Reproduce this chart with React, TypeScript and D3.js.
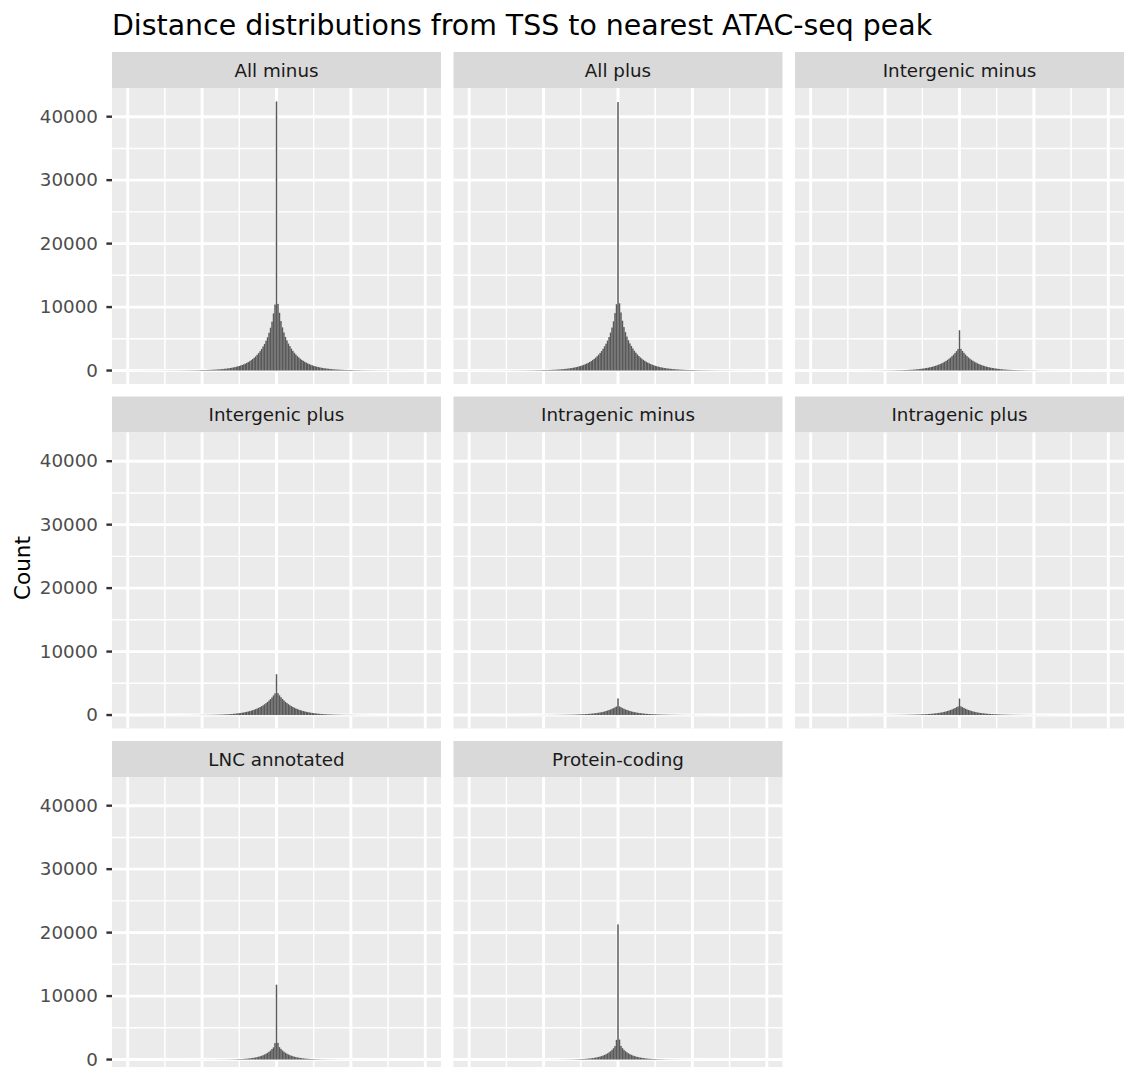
import React from 'react';
import * as d3 from 'd3';

// facet labels (facet_wrap order)
const facetNames = [
  'All minus', 'All plus', 'Intergenic minus',
  'Intergenic plus', 'Intragenic minus', 'Intragenic plus',
  'LNC annotated', 'Protein-coding',
];

// bin width 1 kb; bin centred at 0 holds the TSS-overlap spike
const binWidth = 1000;
const centerCounts = [42400, 42300, 6350, 6430, 2620, 2600, 11800, 21300];

// counts going outward from the centre bin: index 0 = ±1 kb, index 99 = ±100 kb
const allMinusLeft = [10400, 9000, 7700, 6750, 5950, 5250, 4700, 4200, 3800, 3400, 3050, 2750, 2480, 2230, 2010, 1810, 1630, 1470, 1330, 1200, 1085, 980, 885, 800, 725, 655, 592, 536, 485, 440, 398, 361, 328, 298, 271, 247, 225, 205, 187, 171, 156, 143, 131, 120, 110, 101, 93, 86, 79, 73, 67, 62, 58, 54, 50, 46, 43, 40, 37, 35, 33, 31, 29, 27, 26, 24, 23, 22, 21, 20, 19, 18, 17, 16, 16, 15, 14, 14, 13, 13, 12, 12, 11, 11, 10, 10, 10, 9, 9, 9, 8, 8, 8, 7, 7, 7, 7, 6, 6, 6];
const allMinusRight = [10500, 9100, 7800, 6800, 6000, 5300, 4750, 4250, 3850, 3450, 3100, 2800, 2530, 2280, 2060, 1860, 1680, 1520, 1370, 1240, 1120, 1010, 910, 825, 745, 675, 610, 552, 500, 452, 410, 372, 338, 307, 279, 254, 231, 210, 192, 175, 160, 146, 134, 123, 113, 104, 96, 88, 81, 75, 69, 64, 59, 55, 51, 47, 44, 41, 38, 36, 34, 32, 30, 28, 26, 25, 24, 22, 21, 20, 19, 18, 17, 17, 16, 15, 15, 14, 13, 13, 12, 12, 11, 11, 11, 10, 10, 9, 9, 9, 8, 8, 8, 8, 7, 7, 7, 7, 6, 6];

const allPlusLeft = [10450, 9050, 7750, 6780, 5980, 5280, 4720, 4230, 3820, 3420, 3070, 2770, 2500, 2250, 2030, 1830, 1650, 1490, 1345, 1215, 1100, 993, 897, 810, 733, 662, 598, 541, 490, 444, 402, 364, 330, 300, 273, 248, 226, 206, 188, 172, 157, 144, 132, 121, 111, 102, 94, 86, 79, 73, 67, 62, 58, 54, 50, 46, 43, 40, 37, 35, 33, 31, 29, 27, 26, 24, 23, 22, 21, 20, 19, 18, 17, 16, 16, 15, 14, 14, 13, 13, 12, 12, 11, 11, 10, 10, 10, 9, 9, 9, 8, 8, 8, 7, 7, 7, 7, 6, 6, 6];
const allPlusRight = [10600, 9150, 7850, 6850, 6050, 5350, 4780, 4280, 3870, 3470, 3120, 2810, 2540, 2290, 2070, 1870, 1690, 1530, 1380, 1250, 1130, 1020, 920, 830, 750, 680, 615, 556, 503, 455, 412, 374, 340, 309, 281, 256, 233, 212, 193, 176, 161, 147, 135, 124, 114, 105, 97, 89, 82, 76, 70, 65, 60, 56, 52, 48, 45, 42, 39, 37, 35, 33, 31, 29, 27, 25, 24, 23, 22, 21, 20, 19, 18, 17, 16, 16, 15, 14, 14, 13, 13, 12, 12, 11, 11, 10, 10, 10, 9, 9, 9, 8, 8, 8, 7, 7, 7, 7, 6, 6];

const interMinusLeft = [3380, 3050, 2760, 2500, 2260, 2050, 1860, 1685, 1525, 1380, 1250, 1130, 1022, 924, 836, 756, 683, 616, 555, 500, 450, 405, 364, 327, 294, 264, 237, 212, 190, 170, 152, 136, 122, 110, 99, 89, 80, 72, 65, 59, 53, 48, 43, 39, 36, 33, 30, 27, 25, 23, 21, 19, 17, 16, 15, 14, 13, 12, 11, 10, 9, 9, 8, 8, 7, 7, 6, 6, 6, 5, 5, 5, 5, 4, 4, 4, 4, 4, 3, 3, 3, 3, 3, 3, 3, 3, 2, 2, 2, 2, 2, 2, 2, 2, 2, 2, 2, 2, 2, 2];
const interMinusRight = [3410, 3080, 2790, 2520, 2280, 2070, 1880, 1700, 1540, 1395, 1265, 1145, 1035, 935, 845, 765, 690, 622, 560, 505, 455, 410, 368, 330, 296, 266, 239, 214, 192, 172, 154, 138, 124, 111, 100, 90, 81, 73, 66, 60, 54, 49, 44, 40, 36, 33, 30, 27, 25, 23, 21, 19, 17, 16, 15, 14, 13, 12, 11, 10, 9, 9, 8, 8, 7, 7, 6, 6, 6, 5, 5, 5, 5, 4, 4, 4, 4, 4, 3, 3, 3, 3, 3, 3, 3, 3, 2, 2, 2, 2, 2, 2, 2, 2, 2, 2, 2, 2, 2, 2];

const interPlusLeft = [3420, 3090, 2790, 2525, 2285, 2070, 1875, 1698, 1538, 1392, 1260, 1140, 1030, 932, 842, 761, 688, 620, 559, 503, 453, 408, 367, 329, 295, 265, 238, 213, 191, 171, 153, 137, 123, 111, 100, 90, 81, 73, 66, 59, 53, 48, 44, 40, 36, 33, 30, 27, 25, 23, 21, 19, 17, 16, 15, 14, 13, 12, 11, 10, 9, 9, 8, 8, 7, 7, 6, 6, 6, 5, 5, 5, 5, 4, 4, 4, 4, 4, 3, 3, 3, 3, 3, 3, 3, 3, 2, 2, 2, 2, 2, 2, 2, 2, 2, 2, 2, 2, 2, 2];
const interPlusRight = [3450, 3110, 2810, 2540, 2300, 2085, 1890, 1710, 1550, 1405, 1272, 1152, 1042, 942, 851, 770, 695, 627, 565, 509, 459, 413, 371, 333, 299, 268, 241, 216, 194, 174, 156, 140, 125, 112, 101, 91, 82, 74, 67, 60, 54, 49, 44, 40, 36, 33, 30, 27, 25, 23, 21, 19, 17, 16, 15, 14, 13, 12, 11, 10, 9, 9, 8, 8, 7, 7, 6, 6, 6, 5, 5, 5, 5, 4, 4, 4, 4, 4, 3, 3, 3, 3, 3, 3, 3, 3, 2, 2, 2, 2, 2, 2, 2, 2, 2, 2, 2, 2, 2, 2];

const intraMinusLeft = [1350, 1220, 1090, 980, 882, 793, 713, 634, 565, 505, 451, 404, 363, 327, 295, 267, 241, 218, 197, 178, 161, 146, 132, 120, 109, 99, 90, 82, 75, 68, 62, 57, 52, 48, 44, 40, 37, 34, 31, 28, 26, 24, 22, 20, 19, 17, 16, 15, 14, 13, 12, 11, 10, 9, 9, 8, 8, 7, 7, 6, 6, 5, 5, 5, 4, 4, 4, 4, 3, 3, 3, 3, 3, 3, 2, 2, 2, 2, 2, 2, 2, 2, 2, 2, 2, 1, 1, 1, 1, 1, 1, 1, 1, 1, 1, 1, 1, 1, 1, 1];
const intraMinusRight = [1360, 1230, 1100, 990, 890, 800, 720, 640, 570, 510, 455, 408, 366, 330, 298, 270, 244, 220, 199, 180, 163, 148, 134, 122, 111, 101, 92, 84, 77, 70, 64, 59, 54, 49, 45, 41, 38, 35, 32, 29, 27, 25, 23, 21, 19, 18, 16, 15, 14, 13, 12, 11, 10, 9, 9, 8, 8, 7, 7, 6, 6, 5, 5, 5, 4, 4, 4, 4, 3, 3, 3, 3, 3, 3, 2, 2, 2, 2, 2, 2, 2, 2, 2, 2, 2, 1, 1, 1, 1, 1, 1, 1, 1, 1, 1, 1, 1, 1, 1, 1];

const intraPlusLeft = [1355, 1225, 1095, 985, 886, 797, 716, 637, 568, 508, 453, 406, 365, 329, 297, 268, 242, 219, 198, 179, 162, 147, 133, 121, 110, 100, 91, 83, 76, 69, 63, 58, 53, 48, 44, 40, 37, 34, 31, 28, 26, 24, 22, 20, 19, 17, 16, 15, 14, 13, 12, 11, 10, 9, 9, 8, 8, 7, 7, 6, 6, 5, 5, 5, 4, 4, 4, 4, 3, 3, 3, 3, 3, 3, 2, 2, 2, 2, 2, 2, 2, 2, 2, 2, 2, 1, 1, 1, 1, 1, 1, 1, 1, 1, 1, 1, 1, 1, 1, 1];
const intraPlusRight = [1370, 1240, 1110, 995, 895, 805, 722, 645, 575, 514, 458, 410, 368, 332, 300, 271, 245, 221, 200, 181, 164, 149, 135, 123, 112, 102, 93, 85, 77, 70, 64, 59, 54, 49, 45, 41, 38, 35, 32, 29, 27, 25, 23, 21, 19, 18, 16, 15, 14, 13, 12, 11, 10, 9, 9, 8, 8, 7, 7, 6, 6, 5, 5, 5, 4, 4, 4, 4, 3, 3, 3, 3, 3, 3, 2, 2, 2, 2, 2, 2, 2, 2, 2, 2, 2, 1, 1, 1, 1, 1, 1, 1, 1, 1, 1, 1, 1, 1, 1, 1];

const lncLeft = [2600, 1920, 1660, 1415, 1225, 1058, 915, 791, 683, 591, 512, 443, 384, 332, 288, 249, 216, 187, 162, 140, 122, 106, 92, 80, 70, 61, 53, 47, 41, 36, 32, 29, 26, 24, 22, 20, 18, 16, 15, 14, 13, 12, 11, 10, 9, 9, 8, 8, 7, 7, 6, 6, 6, 5, 5, 5, 4, 4, 4, 4, 3, 3, 3, 3, 3, 3, 2, 2, 2, 2, 2, 2, 2, 2, 2, 2, 2, 1, 1, 1, 1, 1, 1, 1, 1, 1, 1, 1, 1, 1, 1, 1, 1, 1, 1, 1, 1, 1, 1, 1];
const lncRight = [2630, 1950, 1680, 1430, 1240, 1070, 925, 800, 690, 598, 518, 448, 388, 336, 291, 252, 218, 189, 164, 142, 123, 107, 93, 81, 71, 62, 54, 47, 42, 37, 33, 30, 27, 24, 22, 20, 18, 16, 15, 14, 13, 12, 11, 10, 9, 9, 8, 8, 7, 7, 6, 6, 6, 5, 5, 5, 4, 4, 4, 4, 3, 3, 3, 3, 3, 3, 2, 2, 2, 2, 2, 2, 2, 2, 2, 2, 2, 1, 1, 1, 1, 1, 1, 1, 1, 1, 1, 1, 1, 1, 1, 1, 1, 1, 1, 1, 1, 1, 1, 1];

const codingLeft = [3100, 2120, 1780, 1515, 1308, 1130, 976, 843, 729, 631, 546, 473, 410, 355, 307, 266, 231, 200, 173, 150, 130, 113, 98, 86, 75, 65, 57, 50, 44, 39, 35, 31, 28, 25, 22, 20, 18, 16, 14, 13, 12, 11, 10, 9, 8, 8, 7, 7, 6, 6, 5, 5, 5, 4, 4, 4, 4, 3, 3, 3, 3, 3, 3, 3, 2, 2, 2, 2, 2, 2, 2, 2, 2, 2, 2, 1, 1, 1, 1, 1, 1, 1, 1, 1, 1, 1, 1, 1, 1, 1, 1, 1, 1, 1, 1, 1, 1, 1, 1, 1];
const codingRight = [3150, 2150, 1800, 1530, 1320, 1140, 985, 850, 735, 636, 551, 477, 413, 358, 310, 269, 233, 202, 175, 152, 132, 115, 100, 87, 76, 66, 58, 51, 45, 40, 35, 31, 28, 25, 22, 20, 18, 16, 14, 13, 12, 11, 10, 9, 8, 8, 7, 7, 6, 6, 5, 5, 5, 4, 4, 4, 4, 3, 3, 3, 3, 3, 3, 3, 2, 2, 2, 2, 2, 2, 2, 2, 2, 2, 2, 1, 1, 1, 1, 1, 1, 1, 1, 1, 1, 1, 1, 1, 1, 1, 1, 1, 1, 1, 1, 1, 1, 1, 1, 1];

const leftCounts = [allMinusLeft, allPlusLeft, interMinusLeft, interPlusLeft, intraMinusLeft, intraPlusLeft, lncLeft, codingLeft];
const rightCounts = [allMinusRight, allPlusRight, interMinusRight, interPlusRight, intraMinusRight, intraPlusRight, lncRight, codingRight];

const yBreaks = [0, 10000, 20000, 30000, 40000];
const yMinor = [5000, 15000, 25000, 35000];
const xBreaks = [-100000, -50000, 0, 50000, 100000];
const xMinor = [-75000, -25000, 25000, 75000];

type Bin = { x0: number; x1: number; count: number };

const buildBins = (i: number): Bin[] => {
  const bins: Bin[] = [{ x0: -binWidth / 2, x1: binWidth / 2, count: centerCounts[i] }];
  leftCounts[i].forEach((c, k) => {
    const mid = -(k + 1) * binWidth;
    bins.push({ x0: mid - binWidth / 2, x1: mid + binWidth / 2, count: c });
  });
  rightCounts[i].forEach((c, k) => {
    const mid = (k + 1) * binWidth;
    bins.push({ x0: mid - binWidth / 2, x1: mid + binWidth / 2, count: c });
  });
  return bins;
};

const W = 1125;
const H = 1067;
const colLeft = [112, 453.5, 795];
const rowTop = [52, 396.5, 741];
const panelW = 329;
const panelH = 296;
const stripH = 36;
const font = '"DejaVu Sans", Verdana, sans-serif';

export default function App() {
  // shared scales (fixed facets); ggplot default 5% expansion
  const allBins = facetNames.map((_, i) => buildBins(i));
  const xMin = d3.min(allBins.flat(), (b) => b.x0) as number;
  const xMax = d3.max(allBins.flat(), (b) => b.x1) as number;
  const xPad = (xMax - xMin) * 0.05;
  const x = d3.scaleLinear().domain([xMin - xPad, xMax + xPad]).range([0, panelW]);

  const yMax = d3.max(allBins.flat(), (b) => b.count) as number;
  const yPad = yMax * 0.05;
  const y = d3.scaleLinear().domain([-yPad, yMax + yPad]).range([panelH, 0]);

  return (
    <svg width={W} height={H} style={{ position: 'absolute', left: 0, top: 0, background: '#fff' }}>
      <text x={112} y={35} fontFamily={font} fontSize={28.4} fill="#000">
        Distance distributions from TSS to nearest ATAC-seq peak
      </text>

      <text transform="translate(30,568) rotate(-90)" textAnchor="middle" fontFamily={font} fontSize={21.5} fill="#000">
        Count
      </text>

      {facetNames.map((name, i) => {
        const col = i % 3;
        const row = Math.floor(i / 3);
        const left = colLeft[col];
        const top = rowTop[row] + stripH;
        return (
          <g key={name}>
            {/* strip */}
            <rect x={left} y={rowTop[row]} width={panelW} height={stripH} fill="#D9D9D9" />
            <text x={left + panelW / 2} y={rowTop[row] + 24.5} textAnchor="middle" fontFamily={font} fontSize={18.3} fill="#1A1A1A">
              {name}
            </text>

            <g transform={`translate(${left},${top})`}>
              <rect width={panelW} height={panelH} fill="#EBEBEB" />
              {yMinor.map((v) => (
                <line key={'ym' + v} x1={0} x2={panelW} y1={y(v)} y2={y(v)} stroke="#fff" strokeWidth={1.45} />
              ))}
              {xMinor.map((v) => (
                <line key={'xm' + v} x1={x(v)} x2={x(v)} y1={0} y2={panelH} stroke="#fff" strokeWidth={1.45} />
              ))}
              {yBreaks.map((v) => (
                <line key={'yM' + v} x1={0} x2={panelW} y1={y(v)} y2={y(v)} stroke="#fff" strokeWidth={2.9} />
              ))}
              {xBreaks.map((v) => (
                <line key={'xM' + v} x1={x(v)} x2={x(v)} y1={0} y2={panelH} stroke="#fff" strokeWidth={2.9} />
              ))}
              {allBins[i].map((b, k) => (
                <rect
                  key={k}
                  x={x(b.x0)}
                  width={x(b.x1) - x(b.x0)}
                  y={y(b.count)}
                  height={y(0) - y(b.count)}
                  fill="#595959"
                />
              ))}
            </g>

            {/* y axis on the first column only */}
            {col === 0 &&
              yBreaks.map((v) => (
                <g key={'yt' + v} transform={`translate(${left},${top + y(v)})`}>
                  <line x1={-5.6} x2={0} stroke="#333333" strokeWidth={2.4} />
                  <text x={-14} dy={6.3} textAnchor="end" fontFamily={font} fontSize={18.3} fill="#4D4D4D">
                    {v}
                  </text>
                </g>
              ))}
          </g>
        );
      })}
    </svg>
  );
}
